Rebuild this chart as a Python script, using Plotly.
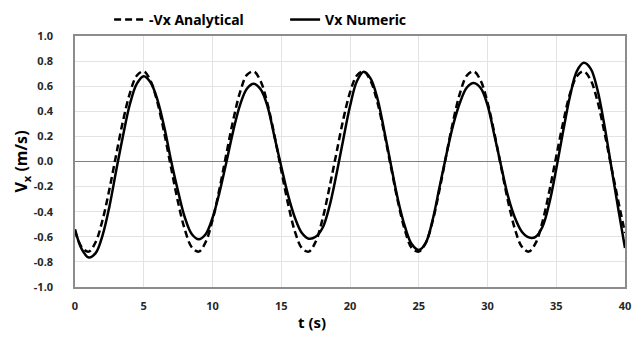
import plotly.graph_objects as go

# time samples (s)
t = [i * 0.5 for i in range(81)]

# -Vx Analytical (m/s)
vx_analytical = [
    -0.55, -0.685, -0.718, -0.642, -0.468, -0.222, 0.056, 0.327,
    0.547, 0.685, 0.718, 0.642, 0.468, 0.222, -0.056, -0.327,
    -0.547, -0.685, -0.718, -0.642, -0.468, -0.222, 0.056, 0.327,
    0.55, 0.69, 0.718, 0.64, 0.46, 0.21, -0.07, -0.34,
    -0.56, -0.69, -0.718, -0.64, -0.46, -0.21, 0.06, 0.33,
    0.55, 0.685, 0.718, 0.642, 0.468, 0.222, -0.056, -0.327,
    -0.55, -0.69, -0.718, -0.65, -0.48, -0.23, 0.05, 0.32,
    0.545, 0.685, 0.718, 0.645, 0.47, 0.225, -0.05, -0.32,
    -0.54, -0.68, -0.718, -0.65, -0.48, -0.235, 0.04, 0.31,
    0.54, 0.68, 0.718, 0.65, 0.48, 0.235, -0.04, -0.31,
    -0.57,
]

# Vx Numeric (m/s)
vx_numeric = [
    -0.54, -0.70, -0.765, -0.73, -0.59, -0.36, -0.07, 0.21,
    0.46, 0.62, 0.68, 0.63, 0.49, 0.27, 0.00, -0.24,
    -0.45, -0.58, -0.62, -0.58, -0.45, -0.25, -0.01, 0.24,
    0.45, 0.58, 0.62, 0.575, 0.44, 0.20, -0.04, -0.27,
    -0.45, -0.57, -0.615, -0.60, -0.53, -0.36, -0.11, 0.17,
    0.44, 0.64, 0.715, 0.66, 0.50, 0.24, -0.04, -0.31,
    -0.52, -0.66, -0.705, -0.65, -0.47, -0.21, 0.05, 0.29,
    0.47, 0.59, 0.625, 0.585, 0.45, 0.21, -0.04, -0.28,
    -0.45, -0.56, -0.605, -0.60, -0.52, -0.33, -0.06, 0.24,
    0.52, 0.72, 0.786, 0.74, 0.57, 0.29, -0.04, -0.37,
    -0.69,
]

x_ticks = [0, 5, 10, 15, 20, 25, 30, 35, 40]
y_ticks = [-1.0, -0.8, -0.6, -0.4, -0.2, 0.0, 0.2, 0.4, 0.6, 0.8, 1.0]
y_tick_labels = ["-1.0", "-0.8", "-0.6", "-0.4", "-0.2", "0.0",
                 "0.2", "0.4", "0.6", "0.8", "1.0"]

FONT = "Noto Sans"

fig = go.Figure()
fig.add_trace(go.Scatter(
    x=t, y=vx_analytical, mode="lines", name="-Vx Analytical",
    line=dict(color="black", width=2.5, dash="7px,4px", shape="spline"),
))
fig.add_trace(go.Scatter(
    x=t, y=vx_numeric, mode="lines", name="Vx Numeric",
    line=dict(color="black", width=2.5, shape="spline"),
))

fig.update_layout(
    width=632, height=337,
    margin=dict(l=75, r=7, t=36, b=50, autoexpand=False),
    paper_bgcolor="white", plot_bgcolor="white",
    font=dict(family=FONT, size=11, color="#262626", weight="bold"),
    showlegend=True,
    legend=dict(
        orientation="h", x=0.062, xanchor="left", y=1.064, yanchor="middle",
        font=dict(family=FONT, size=14, color="black", weight="bold"),
        entrywidth=131, entrywidthmode="pixels",
        itemwidth=30, bgcolor="rgba(0,0,0,0)", tracegroupgap=0,
    ),
    xaxis=dict(
        range=[0, 40], tickvals=x_ticks, ticktext=[str(v) for v in x_ticks],
        showgrid=True, gridcolor="#e3e3e3", gridwidth=1,
        zeroline=False, showline=True, linecolor="#8c8c8c", linewidth=1.5,
        mirror=True, ticks="", ticklen=0, automargin=False,
        ticklabelstandoff=8, ticklabeloverflow="allow",
        tickfont=dict(family=FONT, size=11, color="#262626", weight="bold"),
    ),
    yaxis=dict(
        range=[-1.0, 1.0], tickvals=y_ticks, ticktext=y_tick_labels,
        showgrid=True, gridcolor="#e3e3e3", gridwidth=1,
        zeroline=True, zerolinecolor="#7f7f7f", zerolinewidth=1.3,
        showline=True, linecolor="#8c8c8c", linewidth=1.5, mirror=True,
        ticks="", ticklen=0, automargin=False,
        ticklabelstandoff=18, ticklabeloverflow="allow",
        tickfont=dict(family=FONT, size=11, color="#262626", weight="bold"),
        title=dict(text="V<sub>x</sub> (m/s)", standoff=0,
                   font=dict(family=FONT, size=16, color="black", weight="bold")),
    ),
)

fig.add_annotation(
    text="t (s)", xref="paper", yref="paper", x=0.431, y=-0.14,
    xanchor="center", yanchor="middle", showarrow=False,
    font=dict(family=FONT, size=15, color="black", weight="bold"),
)

fig.write_html(
    "out.html",
    config={"displayModeBar": False},
    post_script="document.body.style.margin='0';document.body.style.overflow='hidden';",
)
